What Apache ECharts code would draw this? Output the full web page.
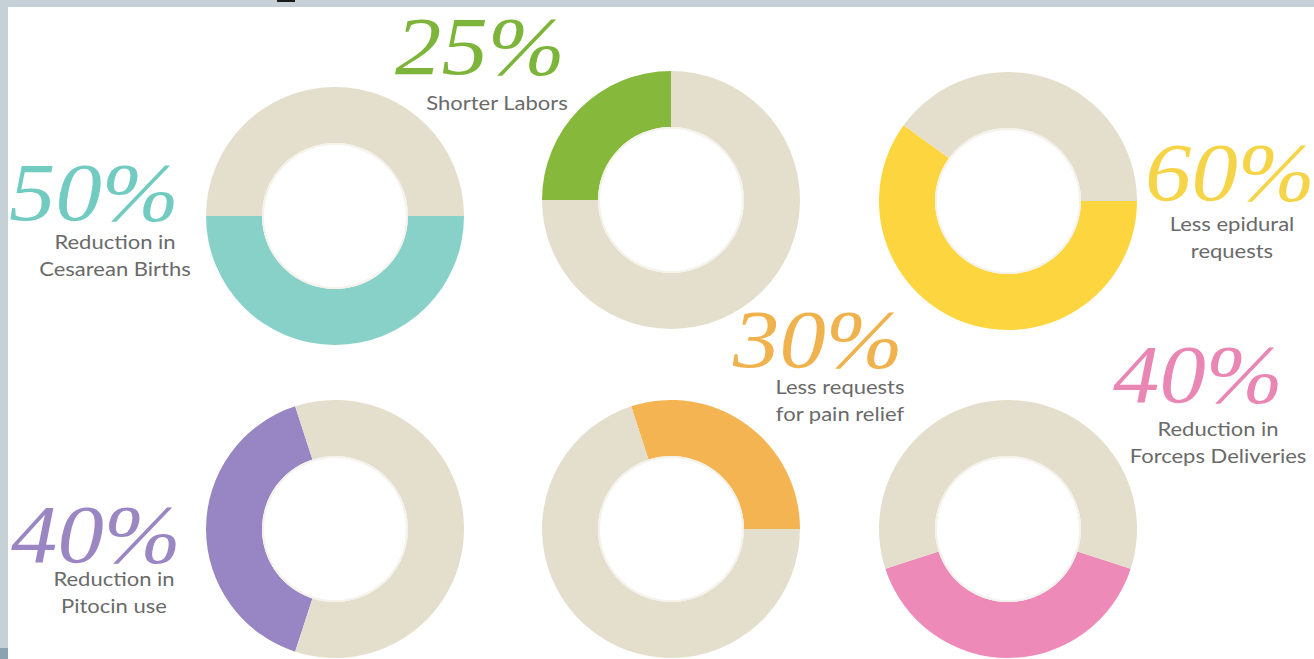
<!DOCTYPE html>
<html>
<head>
<meta charset="utf-8">
<style>
html,body{margin:0;padding:0;background:#ffffff;}
#chart{width:1314px;height:659px;}
</style>
<script src="https://cdn.jsdelivr.net/npm/echarts@6/dist/echarts.min.js"></script>
</head>
<body>
<div id="chart"></div>
<script>
// ---- data ----
const values = [50, 25, 60, 40, 30, 40];
const valueLabels = ['50%', '25%', '60%', '40%', '30%', '40%'];
const captionLine1 = ['Reduction in', 'Shorter Labors', 'Less epidural', 'Reduction in', 'Less requests', 'Reduction in'];
const captionLine2 = ['Cesarean Births', '', 'requests', 'Pitocin use', 'for pain relief', 'Forceps Deliveries'];

// ---- layout / style ----
const colors = ['#88d1c8', '#86b83b', '#fdd63f', '#9885c3', '#f4b452', '#ee8ab8'];
const numColors = ['#72cbc1', '#7db43a', '#f6d448', '#9a86c2', '#f0b24c', '#e986b4'];
const restColor = '#e4dfcc';
const centers = [[335, 216], [671, 200], [1008, 201], [335, 529], [671, 529], [1008, 529]];
const startAngles = [0, 90, 0, 108, 0, 198];
const clockwiseFlags = [true, false, true, false, false, false];
const numPos = [[94, 192], [480, 46], [1230, 172], [96, 534], [818, 339], [1198, 374]];
const capPos = [[115, 241], [497, 102], [1232, 223], [114, 578], [840, 386], [1218, 428]];

const series = [];
values.forEach((v, i) => {
  series.push({
    type: 'pie',
    silent: true,
    center: centers[i],
    radius: [73, 129],
    startAngle: startAngles[i],
    clockwise: clockwiseFlags[i],
    label: { show: false },
    labelLine: { show: false },
    emphasis: { disabled: true },
    itemStyle: { borderWidth: 0 },
    data: [
      { value: v, itemStyle: { color: colors[i] } },
      { value: 100 - v, itemStyle: { color: restColor } }
    ]
  });
  series.push({
    type: 'pie',
    silent: true,
    center: centers[i],
    radius: [71, 73],
    label: { show: false },
    labelLine: { show: false },
    emphasis: { disabled: true },
    itemStyle: { borderWidth: 0, color: '#f4f2ea' },
    data: [{ value: 1 }]
  });
});

const graphics = [
  { type: 'rect', shape: { x: 0, y: 0, width: 1314, height: 7 }, style: { fill: '#c6d0d7' }, silent: true },
  { type: 'rect', shape: { x: 0, y: 0, width: 8, height: 659 }, style: { fill: '#c6d0d7' }, silent: true },
  { type: 'rect', shape: { x: 0, y: 648, width: 8, height: 11 }, style: { fill: '#8aa3b0' }, silent: true },
  { type: 'rect', shape: { x: 277, y: 0, width: 18, height: 2 }, style: { fill: '#1a1a1a' }, silent: true }
];
valueLabels.forEach((t, i) => {
  graphics.push({
    type: 'text', silent: true,
    x: numPos[i][0], y: numPos[i][1], scaleX: 1.13,
    style: {
      text: t, x: 0, y: 0,
      align: 'center', verticalAlign: 'middle',
      fontFamily: 'Liberation Serif', fontStyle: 'italic', fontSize: 82,
      fill: numColors[i]
    }
  });
  const lines = captionLine2[i] ? [captionLine1[i], captionLine2[i]] : [captionLine1[i]];
  lines.forEach((ln, k) => {
    graphics.push({
      type: 'text', silent: true,
      x: capPos[i][0], y: capPos[i][1] + k * 27, scaleX: 1.1,
      style: {
        text: ln, x: 0, y: 0,
        align: 'center', verticalAlign: 'middle',
        fontFamily: 'Lato', fontSize: 20, fill: '#6a6a6a'
      }
    });
  });
});

const chart = echarts.init(document.getElementById('chart'), null, { renderer: 'svg' });
chart.setOption({
  backgroundColor: '#ffffff',
  animation: false,
  series: series,
  graphic: graphics
});
</script>
</body>
</html>
